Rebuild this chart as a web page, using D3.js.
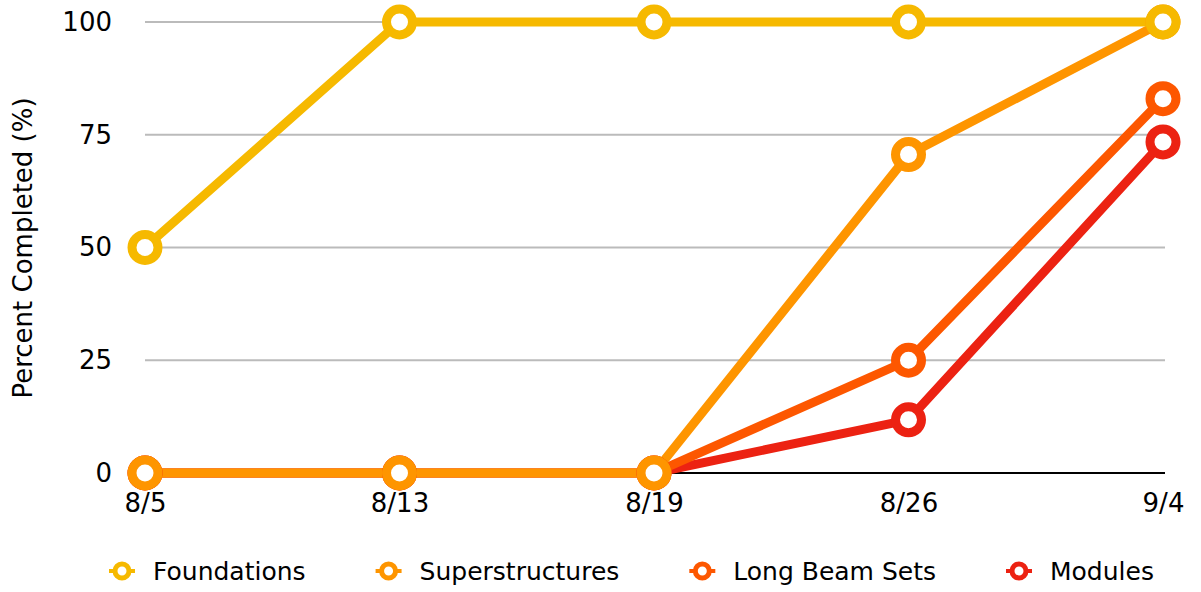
<!DOCTYPE html>
<html>
<head>
<meta charset="utf-8">
<script src="https://d3js.org/d3.v7.min.js"></script>
<style>
  body { margin: 0; background: #fff; }
  text { font-family: "DejaVu Sans", sans-serif; fill: #000; }
</style>
</head>
<body>
<div id="chart"></div>
<script>
// data
var dates = ["8/5", "8/13", "8/19", "8/26", "9/4"];
var seriesNames = ["Foundations", "Superstructures", "Long Beam Sets", "Modules"];
var foundations = [50, 100, 100, 100, 100];
var superstructures = [0, 0, 0, 70.6, 100];
var longBeamSets = [0, 0, 0, 25, 83];
var modules = [0, 0, 0, 11.8, 73.4];
var yTicks = [0, 25, 50, 75, 100];
var colors = ["#f6b900", "#fe9500", "#fd5700", "#ec2212"];

var values = [foundations, superstructures, longBeamSets, modules];

var W = 1201, H = 592;
var svg = d3.select("#chart").append("svg")
  .attr("width", W)
  .attr("height", H);

// set the scales
var x = d3.scalePoint()
  .domain(dates)
  .range([145, 1163]);

var y = d3.scaleLinear()
  .domain([0, 100])
  .range([473, 22]);

// gridlines
svg.append("g")
  .selectAll("line")
  .data(yTicks.filter(function(d) { return d > 0; }))
  .join("line")
    .attr("x1", 145)
    .attr("x2", 1165)
    .attr("y1", function(d) { return y(d); })
    .attr("y2", function(d) { return y(d); })
    .attr("stroke", "#bbbbbb")
    .attr("stroke-width", 2);

// baseline
svg.append("line")
  .attr("x1", 145).attr("x2", 1165)
  .attr("y1", y(0)).attr("y2", y(0))
  .attr("stroke", "#000")
  .attr("stroke-width", 2);

// Y axis labels
var yAxis = svg.append("g")
  .attr("transform", "translate(112,0)")
  .call(d3.axisLeft(y).tickValues(yTicks).tickSize(0).tickPadding(0));
yAxis.select(".domain").remove();
yAxis.selectAll("text")
  .attr("font-size", 26)
  .attr("font-family", "DejaVu Sans")
  .attr("fill", "#000");

// X axis labels
var xAxis = svg.append("g")
  .attr("transform", "translate(0,494)")
  .call(d3.axisBottom(x).tickSize(0).tickPadding(0));
xAxis.select(".domain").remove();
xAxis.selectAll("text")
  .attr("font-size", 26)
  .attr("font-family", "DejaVu Sans")
  .attr("fill", "#000");

// axis title
svg.append("text")
  .attr("transform", "translate(32,248) rotate(-90)")
  .attr("text-anchor", "middle")
  .attr("font-size", 26)
  .text("Percent Completed (%)");

var line = d3.line()
  .x(function(d, i) { return x(dates[i]); })
  .y(function(d) { return y(d); });

// draw last series first so Foundations ends on top
var order = [3, 2, 1, 0];

svg.append("g")
  .selectAll("path")
  .data(order)
  .join("path")
    .attr("fill", "none")
    .attr("stroke", function(k) { return colors[k]; })
    .attr("stroke-width", 9)
    .attr("stroke-linejoin", "round")
    .attr("d", function(k) { return line(values[k]); });

order.forEach(function(k) {
  svg.append("g")
    .selectAll("circle")
    .data(values[k])
    .join("circle")
      .attr("cx", function(d, i) { return x(dates[i]); })
      .attr("cy", function(d) { return y(d); })
      .attr("r", 13)
      .attr("fill", "#fff")
      .attr("stroke", colors[k])
      .attr("stroke-width", 9);
});

// legend
var legend = svg.append("g").attr("transform", "translate(0,571)");
var lx = 122;
seriesNames.forEach(function(name, k) {
  var item = legend.append("g").attr("transform", "translate(" + lx + ",0)");
  item.append("line")
    .attr("x1", -13).attr("x2", 13)
    .attr("stroke", colors[k])
    .attr("stroke-width", 4);
  item.append("circle")
    .attr("r", 7)
    .attr("fill", "#fff")
    .attr("stroke", colors[k])
    .attr("stroke-width", 5);
  var t = item.append("text")
    .attr("x", 31)
    .attr("dy", "0.35em")
    .attr("font-size", 25)
    .text(name);
  lx += 31 + t.node().getComputedTextLength() + 83;
});
</script>
</body>
</html>
